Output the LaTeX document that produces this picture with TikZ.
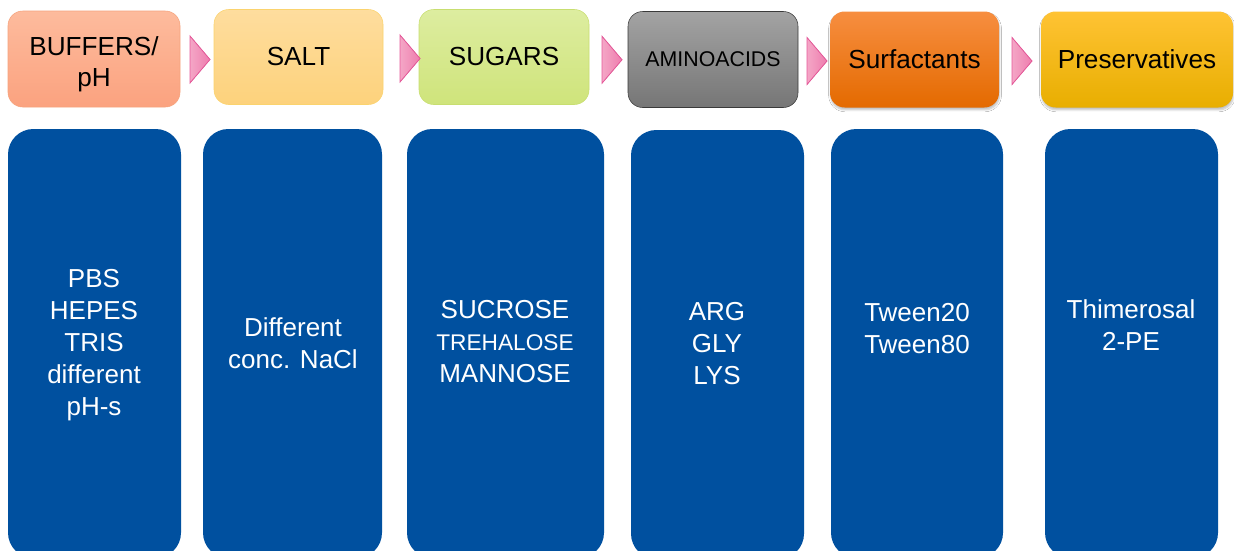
\documentclass[tikz,border=0pt]{standalone}
\usepackage{fontspec}
\setmainfont{Liberation Sans}
\usetikzlibrary{calc}
\usetikzlibrary{shadows.blur}
\definecolor{colblue}{HTML}{00509F}
\definecolor{pinkL}{HTML}{F4A6C6}
\definecolor{pinkR}{HTML}{EE7DAE}
\definecolor{pinkD}{HTML}{E8589A}
\definecolor{bufT}{HTML}{FDBB9D}
\definecolor{bufB}{HTML}{FBA27F}
\definecolor{bufD}{HTML}{F6A47E}
\definecolor{saltT}{HTML}{FEDD9E}
\definecolor{saltB}{HTML}{FDD27C}
\definecolor{saltD}{HTML}{FBD36E}
\definecolor{sugT}{HTML}{DDEDA0}
\definecolor{sugB}{HTML}{CFE47B}
\definecolor{sugD}{HTML}{C8DE70}
\definecolor{aminoT}{HTML}{A3A3A3}
\definecolor{aminoB}{HTML}{767676}
\definecolor{aminoD}{HTML}{3A3A3A}
\definecolor{surfT}{HTML}{F78E40}
\definecolor{surfB}{HTML}{E46A00}
\definecolor{presT}{HTML}{FFC334}
\definecolor{presB}{HTML}{E8AE00}
\tikzset{head/.style={rounded corners=11pt, minimum height=72pt, inner sep=0pt, align=center, font=\fontsize{19.6}{23}\selectfont}}
\tikzset{col/.style={fill=colblue, rounded corners=19pt, minimum height=321.75pt, inner sep=0pt}}
\tikzset{txt/.style={text=white, align=center, font=\fontsize{19.5}{24}\selectfont}}
\tikzset{tri/.style={left color=pinkL, right color=pinkR, draw=pinkD, line width=0.6pt}}
\tikzset{shad/.style={blur shadow={shadow xshift=0.4pt, shadow yshift=-1.8pt, shadow blur radius=1.4pt, shadow blur steps=5, shadow opacity=25}}}
\begin{document}
\begin{tikzpicture}[x=0.75pt, y=-0.75pt]
        \clip (0,0) rectangle (1234,550);
        \fill[white] (0,0) rectangle (1234,550);

        % top row
        \node[head, top color=bufT, bottom color=bufB, draw=bufD, minimum width=129pt, text height=45.5pt] (buf) at (94,59) {BUFFERS/\\pH};
        \node[head, top color=saltT, bottom color=saltB, draw=saltD, minimum width=126.75pt, minimum height=71.25pt] (salt) at (298.5,57) {SALT};
        \node[head, top color=sugT, bottom color=sugB, draw=sugD, minimum width=127.5pt, minimum height=71.25pt] (sug) at (504,57) {SUGARS};
        \node[head, top color=aminoT, bottom color=aminoB, draw=aminoD, minimum width=127.5pt, font=\fontsize{16}{19}\selectfont] (amino) at (713,59.5) {AMINOACIDS};
        \node[head, shad, top color=surfT, bottom color=surfB, minimum width=126.75pt] (surf) at (914.5,59.5) {Surfactants};
        \node[head, shad, top color=presT, bottom color=presB, minimum width=144pt] (pres) at (1137,59.5) {Preservatives};

        \foreach \a/\b/\s in {buf/salt/3, salt/sug/9, sug/amino/3.5, amino/surf/3, surf/pres/2}
        {
            \coordinate (m) at ($(\a.east)!0.5!(\b.west)+(\s,1.5)$);
            \filldraw[tri] ($(m)+(-10,-23.5)$) -- ($(m)+(10,0)$) -- ($(m)+(-10,23.5)$) -- cycle;
        }

        % blue columns
        \node[col, minimum width=129.75pt] (c1) at (94.5,343.5) {};
        \node[col, minimum width=134.25pt] (c2) at (292.5,343.5) {};
        \node[col, minimum width=147.75pt] (c3) at (505.5,343.5) {};
        \node[col, minimum width=129.75pt] (c4) at (717.5,344.5) {};
        \node[col, minimum width=129pt] (c5) at (917,343.5) {};
        \node[col, minimum width=129.75pt] (c6) at (1131.5,343.5) {};

        \node[txt] (t1) at (94,345) {PBS\\HEPES\\TRIS\\different\\pH-s};
        \node[txt] (t2) at (293,343) {Different\\conc. NaCl};
        \node[txt] (t3) at (505,341.5) {SUCROSE\\{\fontsize{17}{20}\selectfont TREHALOSE}\\MANNOSE};
        \node[txt] (t4) at (717,344) {ARG\\GLY\\LYS};
        \node[txt] (t5) at (917,329) {Tween20\\Tween80};
        \node[txt] (t6) at (1131,325) {Thimerosal\\2-PE};
    \end{tikzpicture}
\end{document}
